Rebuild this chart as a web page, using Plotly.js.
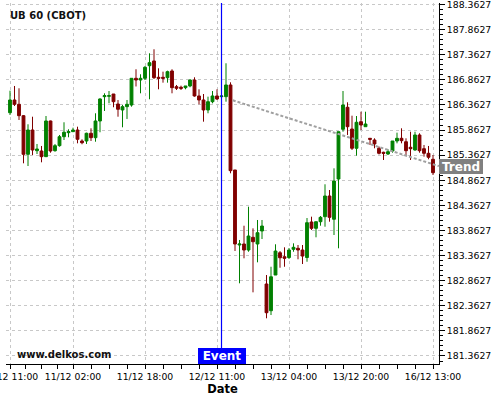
<!DOCTYPE html>
<html>
<head>
<meta charset="utf-8">
<script src="https://cdn.plot.ly/plotly-3.0.1.min.js"></script>
<style>html,body{margin:0;padding:0;background:#fff;}#chart{width:500px;height:400px;}</style>
</head>
<body>
<div id="chart"></div>
<script>
// Hourly bars, index 0 = 10/12 11:00
const openP = [186.208,186.461,186.375,186.148,185.379,185.863,185.451,185.445,185.332,186.043,
185.451,185.551,185.730,185.810,185.830,185.863,185.644,185.644,185.798,185.710,
186.043,186.527,186.535,186.580,186.381,186.262,186.328,186.361,186.893,186.859,
186.893,187.144,187.238,186.913,186.913,186.905,187.039,186.726,186.714,186.706,
186.740,186.859,186.541,186.461,186.262,186.427,186.541,186.527,186.527,186.760,
185.067,183.573,183.593,183.473,183.726,183.593,183.852,182.796,182.264,182.975,
183.419,183.339,183.324,183.487,183.507,183.473,183.324,184.031,183.905,184.037,
184.137,184.549,184.085,184.887,185.877,186.316,185.883,185.499,186.029,185.929,
185.698,185.664,185.499,185.419,185.385,185.445,185.644,185.698,185.630,185.519,
185.465,185.764,185.491,185.399,185.280];
const highP = [186.646,186.740,186.694,186.162,185.977,186.128,185.585,185.545,186.142,186.050,
185.585,185.764,186.017,185.877,185.909,185.929,185.678,185.810,185.897,186.196,
186.495,186.594,186.640,186.580,186.461,186.361,186.461,186.893,187.073,186.973,
187.138,187.391,187.471,187.092,187.025,187.045,187.073,186.760,186.746,186.740,
186.873,186.913,186.674,186.580,186.527,186.640,186.674,186.551,187.192,186.813,
185.067,183.673,183.957,184.336,183.905,184.071,184.071,182.975,183.140,183.587,
183.453,183.527,183.513,183.606,183.573,183.573,184.110,184.137,184.037,184.150,
184.782,184.668,185.100,185.829,186.640,186.415,186.148,186.142,186.228,186.228,
185.704,185.698,185.535,185.431,185.479,185.644,185.810,185.897,185.698,185.829,
185.829,185.798,185.565,185.545,185.365];
const lowP = [186.162,186.341,186.063,185.200,185.146,185.365,185.385,185.220,185.326,185.411,
185.431,185.531,185.664,185.718,185.830,185.598,185.579,185.585,185.644,185.630,
185.818,186.242,186.395,186.316,186.128,185.917,186.083,186.328,186.730,186.594,
186.859,186.475,186.879,186.674,186.806,186.806,186.594,186.660,186.660,186.674,
186.714,186.527,186.375,186.029,186.196,186.395,186.461,186.511,186.427,185.001,
183.454,182.810,183.308,183.439,182.630,183.228,183.692,182.113,182.178,182.975,
183.120,183.140,183.294,183.439,183.288,183.194,183.240,183.871,183.726,183.957,
183.937,184.037,183.772,183.507,185.829,185.764,185.465,185.352,185.863,185.929,
185.565,185.499,185.376,185.266,185.365,185.411,185.598,185.598,185.345,185.266,
185.451,185.411,185.332,185.280,184.967];
const closeP = [186.461,186.375,186.148,185.379,185.863,185.465,185.485,185.332,186.043,185.445,
185.551,185.730,185.818,185.830,185.863,185.678,185.610,185.798,185.710,186.043,
186.481,186.547,186.547,186.427,186.276,186.328,186.375,186.893,186.859,186.893,
187.112,187.204,186.905,186.893,186.893,187.025,186.706,186.694,186.694,186.740,
186.859,186.541,186.461,186.262,186.427,186.541,186.481,186.541,186.760,185.053,
183.593,183.593,183.473,183.752,183.638,183.818,183.951,182.224,182.940,183.453,
183.319,183.308,183.473,183.527,183.473,183.353,184.017,183.905,184.037,184.124,
184.549,184.124,184.847,185.829,186.361,185.929,185.499,186.017,185.963,185.983,
185.678,185.585,185.399,185.399,185.431,185.644,185.698,185.651,185.451,185.491,
185.764,185.451,185.399,185.320,185.013];

const tickIdx = [0, 14, 30, 46, 62, 78, 94];
const tickLabels = ['10/12 11:00','11/12 02:00','11/12 18:00','12/12 11:00','13/12 04:00','13/12 20:00','16/12 13:00'];
const minorIdx = [0,3.5,7,10.5,14,18,22,26,30,34,38,42,46,50,54,58,62,66,70,74,78,82,86,90,94];

const eventIdx = 47;
const trendX = [49.5, 95.3];
const trendY = [186.455, 185.144];

const barIdx = openP.map((_, i) => i);

const candles = {
  type: 'candlestick',
  x: barIdx, open: openP, high: highP, low: lowP, close: closeP,
  increasing: {line: {color: '#008000', width: 1}, fillcolor: '#008000'},
  decreasing: {line: {color: '#800000', width: 1}, fillcolor: '#800000'},
  whiskerwidth: 0,
  hoverinfo: 'skip'
};
const trend = {
  type: 'scatter', mode: 'lines', x: trendX, y: trendY,
  line: {color: '#a0a0a0', width: 2, dash: '3px,2px'},
  hoverinfo: 'skip'
};

const layout = {
  width: 500, height: 400,
  margin: {l: 6, r: 61, t: 3, b: 36},
  paper_bgcolor: '#ffffff', plot_bgcolor: '#ffffff',
  showlegend: false,
  boxgap: 0.1,
  font: {family: 'DejaVu Sans', size: 9.3, color: '#000'},
  title: {text: '<b>UB 60 (CBOT)</b>', x: 0.02, xanchor: 'left', y: 1 - 15.7/400, yanchor: 'middle',
          font: {family: 'DejaVu Sans', size: 10, color: '#111'}},
  xaxis: {
    range: [-0.889, 95.333],
    tickmode: 'array', tickvals: tickIdx, ticktext: tickLabels,
    ticks: 'outside', ticklen: 4, tickcolor: '#000', tickwidth: 1,
    ticklabeloverflow: 'allow',
    showline: true, linecolor: '#000', linewidth: 1,
    showgrid: true, gridcolor: '#c8c8c8', griddash: '3px,3px', gridwidth: 1,
    zeroline: false,
    rangeslider: {visible: false},
    minor: {tickmode: 'array', tickvals: minorIdx, ticks: 'outside', ticklen: 4, tickcolor: '#000', showgrid: false},
    title: {text: '<b>Date</b>', font: {family: 'DejaVu Sans', size: 11.5, color: '#000'}, standoff: 3},
    fixedrange: true
  },
  yaxis: {
    side: 'right',
    range: [181.2029, 188.3926],
    tickmode: 'linear', tick0: 181.3627, dtick: 0.5, tickformat: '.4f',
    ticks: 'outside', ticklen: 5, tickcolor: '#000',
    ticklabeloverflow: 'allow',
    showline: true, linecolor: '#000', linewidth: 1,
    showgrid: true, gridcolor: '#c8c8c8', griddash: '3px,3px', gridwidth: 1,
    zeroline: false,
    minor: {tick0: 181.3627, dtick: 0.1, ticks: 'outside', ticklen: 3, tickcolor: '#000', showgrid: false},
    fixedrange: true
  },
  shapes: [{
    type: 'line', xref: 'x', yref: 'paper', x0: eventIdx, x1: eventIdx, y0: 0, y1: 1,
    line: {color: '#0000ff', width: 1.2}
  }],
  annotations: [
    {text: '<b>www.delkos.com</b>', xref: 'paper', yref: 'paper', x: (15-6)/433, y: (364-354)/361,
     xanchor: 'left', yanchor: 'middle', showarrow: false, font: {family: 'DejaVu Sans', size: 10, color: '#111'}},
    {text: '<b>Event</b>', xref: 'x', yref: 'paper', x: eventIdx, y: 0, xanchor: 'center', yanchor: 'bottom',
     showarrow: false, bgcolor: '#0000ff', borderpad: 1, borderwidth: 0, width: 46, height: 14,
     font: {family: 'DejaVu Sans', size: 12, color: '#ffffff'}},
    {text: '<b>Trend</b>', xref: 'paper', yref: 'y', x: 1, y: trendY[1], xanchor: 'left', yanchor: 'middle',
     showarrow: false, bgcolor: '#808080', borderpad: 1, borderwidth: 0, width: 42, height: 13,
     font: {family: 'DejaVu Sans', size: 12, color: '#ffffff'}}
  ]
};

Plotly.newPlot('chart', [candles, trend], layout, {displayModeBar: false, staticPlot: true});
</script>
</body>
</html>
